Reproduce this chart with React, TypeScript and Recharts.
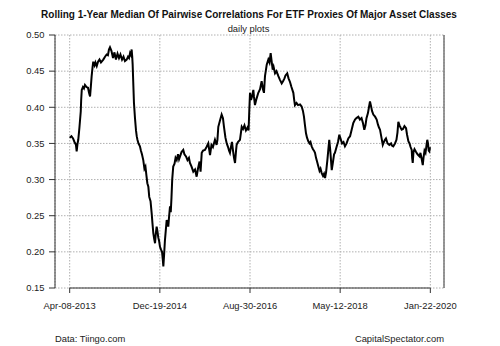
import React from 'react';
import { LineChart, Line, XAxis, YAxis, CartesianGrid, ReferenceLine } from 'recharts';

// Days elapsed since Apr-08-2013
const days = [
  0, 12, 23, 33, 43, 48, 54, 59, 67, 76, 79, 83, 91, 98, 105, 116, 126, 133, 140, 146,
  151, 157, 162, 171, 177, 186, 195, 205, 215, 231, 243, 254, 263, 270, 277, 287, 298, 308, 318, 329,
  339, 349, 360, 370, 380, 392, 401, 408, 415, 422, 426, 430, 433, 437, 442, 449, 456, 461, 466, 473,
  483, 490, 497, 506, 514, 521, 528, 534, 541, 547, 556, 564, 569, 575, 581, 587, 592, 598, 604, 609,
  615, 621, 628, 635, 640, 644, 649, 655, 661, 667, 673, 678, 684, 690, 695, 700, 705, 712, 721, 728,
  736, 745, 752, 759, 769, 781, 789, 800, 810, 820, 827, 838, 850, 862, 873, 882, 893, 900, 908, 917,
  930, 941, 953, 965, 975, 985, 999, 1010, 1016, 1022, 1034, 1045, 1054, 1061, 1071, 1080, 1089, 1096, 1102, 1109,
  1116, 1123, 1130, 1137, 1144, 1148, 1157, 1171, 1183, 1192, 1202, 1212, 1223, 1230, 1235, 1240, 1247, 1254, 1263, 1267,
  1274, 1285, 1297, 1309, 1320, 1329, 1336, 1343, 1355, 1366, 1374, 1382, 1388, 1396, 1402, 1412, 1422, 1435, 1446, 1458,
  1467, 1477, 1484, 1496, 1505, 1515, 1525, 1538, 1544, 1549, 1560, 1570, 1584, 1595, 1604, 1611, 1618, 1625, 1632, 1641,
  1649, 1656, 1664, 1673, 1680, 1687, 1694, 1701, 1710, 1718, 1725, 1733, 1742, 1749, 1756, 1763, 1772, 1778, 1785, 1792,
  1802, 1811, 1818, 1824, 1835, 1845, 1854, 1862, 1873, 1883, 1893, 1904, 1916, 1928, 1939, 1950, 1962, 1972, 1985, 1996,
  2007, 2017, 2026, 2034, 2041, 2051, 2058, 2065, 2072, 2079, 2088, 2100, 2111, 2120, 2127, 2134, 2144, 2153, 2161, 2168,
  2175, 2186, 2198, 2210, 2216, 2225, 2237, 2247, 2254, 2260, 2268, 2275, 2283, 2292, 2302, 2313, 2320, 2329, 2337, 2344,
  2352, 2355, 2359, 2364, 2371, 2382, 2392, 2406, 2412, 2419, 2428, 2433, 2440, 2447, 2454, 2459, 2464, 2469, 2473, 2478,
];

const medianCorrelation = [
  0.358, 0.360, 0.357, 0.352, 0.348, 0.339, 0.350, 0.355, 0.372, 0.394, 0.410, 0.424, 0.428, 0.426, 0.431, 0.428, 0.427, 0.420, 0.415, 0.430,
  0.443, 0.455, 0.463, 0.458, 0.462, 0.457, 0.463, 0.466, 0.462, 0.466, 0.470, 0.473, 0.472, 0.480, 0.483, 0.478, 0.468, 0.476, 0.466, 0.474,
  0.468, 0.473, 0.466, 0.470, 0.464, 0.466, 0.470, 0.468, 0.475, 0.472, 0.480, 0.470, 0.459, 0.435, 0.406, 0.385, 0.368, 0.360, 0.355, 0.350,
  0.346, 0.340, 0.335, 0.327, 0.315, 0.318, 0.305, 0.295, 0.290, 0.276, 0.270, 0.253, 0.240, 0.226, 0.218, 0.212, 0.225, 0.235, 0.228, 0.220,
  0.215, 0.207, 0.203, 0.200, 0.190, 0.180, 0.195, 0.216, 0.230, 0.244, 0.238, 0.235, 0.250, 0.263, 0.255, 0.275, 0.300, 0.318, 0.322, 0.330,
  0.327, 0.335, 0.328, 0.332, 0.338, 0.341, 0.335, 0.332, 0.327, 0.330, 0.323, 0.318, 0.311, 0.314, 0.304, 0.315, 0.325, 0.311, 0.337, 0.340,
  0.341, 0.345, 0.350, 0.334, 0.348, 0.345, 0.355, 0.348, 0.355, 0.373, 0.382, 0.390, 0.385, 0.373, 0.358, 0.350, 0.345, 0.340, 0.337, 0.345,
  0.352, 0.340, 0.330, 0.323, 0.340, 0.348, 0.352, 0.355, 0.373, 0.370, 0.375, 0.368, 0.372, 0.368, 0.395, 0.420, 0.410, 0.415, 0.424, 0.415,
  0.403, 0.412, 0.420, 0.425, 0.436, 0.425, 0.420, 0.443, 0.459, 0.466, 0.462, 0.475, 0.465, 0.452, 0.456, 0.447, 0.450, 0.443, 0.438, 0.433,
  0.436, 0.440, 0.444, 0.447, 0.440, 0.435, 0.428, 0.420, 0.410, 0.403, 0.406, 0.403, 0.404, 0.401, 0.395, 0.387, 0.375, 0.364, 0.358, 0.353,
  0.350, 0.352, 0.346, 0.342, 0.340, 0.337, 0.330, 0.325, 0.318, 0.312, 0.315, 0.309, 0.305, 0.308, 0.302, 0.310, 0.327, 0.340, 0.355, 0.340,
  0.313, 0.325, 0.335, 0.337, 0.345, 0.352, 0.362, 0.357, 0.350, 0.352, 0.346, 0.350, 0.357, 0.360, 0.369, 0.378, 0.383, 0.385, 0.387, 0.383,
  0.385, 0.378, 0.369, 0.375, 0.385, 0.392, 0.400, 0.408, 0.402, 0.395, 0.390, 0.387, 0.383, 0.376, 0.372, 0.369, 0.358, 0.348, 0.352, 0.355,
  0.357, 0.350, 0.348, 0.350, 0.347, 0.346, 0.350, 0.355, 0.365, 0.380, 0.375, 0.372, 0.369, 0.370, 0.374, 0.371, 0.362, 0.353, 0.350, 0.345,
  0.341, 0.330, 0.323, 0.338, 0.342, 0.338, 0.335, 0.332, 0.337, 0.330, 0.320, 0.330, 0.340, 0.337, 0.348, 0.355, 0.350, 0.340, 0.339, 0.345,
];

const xTickDays = [0, 620, 1240, 1860, 2480];
const xTickLabels = ['Apr-08-2013', 'Dec-19-2014', 'Aug-30-2016', 'May-12-2018', 'Jan-22-2020'];
const yTicks = [0.15, 0.2, 0.25, 0.3, 0.35, 0.4, 0.45, 0.5];
const xDomain = [-101, 2574];

const title = 'Rolling 1-Year Median Of Pairwise Correlations For ETF Proxies Of Major Asset Classes';
const subtitle = 'daily plots';
const sourceNote = 'Data: Tiingo.com';
const brandNote = 'CapitalSpectator.com';

const data = days.map((d, i) => ({ day: d, value: medianCorrelation[i] }));

const FONT = '"Liberation Sans", Arial, sans-serif';

export default function App() {
  const labelFor = (v: number) => {
    const i = xTickDays.indexOf(v);
    return i >= 0 ? xTickLabels[i] : '';
  };
  return (
    <div style={{ position: 'absolute', left: 0, top: 0, width: 500, height: 346, background: '#fff', fontFamily: FONT }}>
      <div style={{ position: 'absolute', left: 0, width: 498, top: 8, textAlign: 'center', fontSize: 10, fontWeight: 'bold', lineHeight: '13px', color: '#111' }}>
        {title}
      </div>
      <div style={{ position: 'absolute', left: 0, width: 497, top: 23, textAlign: 'center', fontSize: 9.4, lineHeight: '11px', color: '#222' }}>
        {subtitle}
      </div>
      <LineChart width={500} height={346} data={data} margin={{ top: 35, right: 56, left: 0, bottom: 0 }}>
        <CartesianGrid stroke="#b0b0b0" strokeDasharray="1.5 1.5" strokeWidth={1} />
        <XAxis
          dataKey="day"
          type="number"
          domain={xDomain}
          ticks={xTickDays}
          tickFormatter={labelFor}
          axisLine={false}
          tickLine={{ stroke: '#333' }}
          tickSize={5}
          tickMargin={9}
          height={58}
          interval={0}
          tick={{ fill: '#222', fontSize: 9.4, fontFamily: FONT }}
        />
        <YAxis
          type="number"
          domain={[0.15, 0.5]}
          ticks={yTicks}
          tickFormatter={(v: number) => v.toFixed(2)}
          width={55}
          axisLine={{ stroke: '#333' }}
          tickLine={{ stroke: '#333' }}
          tickSize={6}
          tickMargin={4.5}
          interval={0}
          tick={{ fill: '#222', fontSize: 9.4, fontFamily: FONT }}
        />
        <ReferenceLine segment={[{ x: xTickDays[0], y: 0.15 }, { x: xTickDays[xTickDays.length - 1], y: 0.15 }]} stroke="#333" strokeWidth={1} />
        <ReferenceLine x={xDomain[1]} stroke="#777" strokeWidth={1.5} />
        <Line type="linear" dataKey="value" stroke="#000" strokeWidth={2} dot={false} isAnimationActive={false} />
      </LineChart>
      <div style={{ position: 'absolute', left: 55, top: 333, fontSize: 9.4, lineHeight: '12px', color: '#222' }}>{sourceNote}</div>
      <div style={{ position: 'absolute', right: 56, top: 333, fontSize: 9.4, lineHeight: '12px', color: '#222' }}>{brandNote}</div>
    </div>
  );
}
